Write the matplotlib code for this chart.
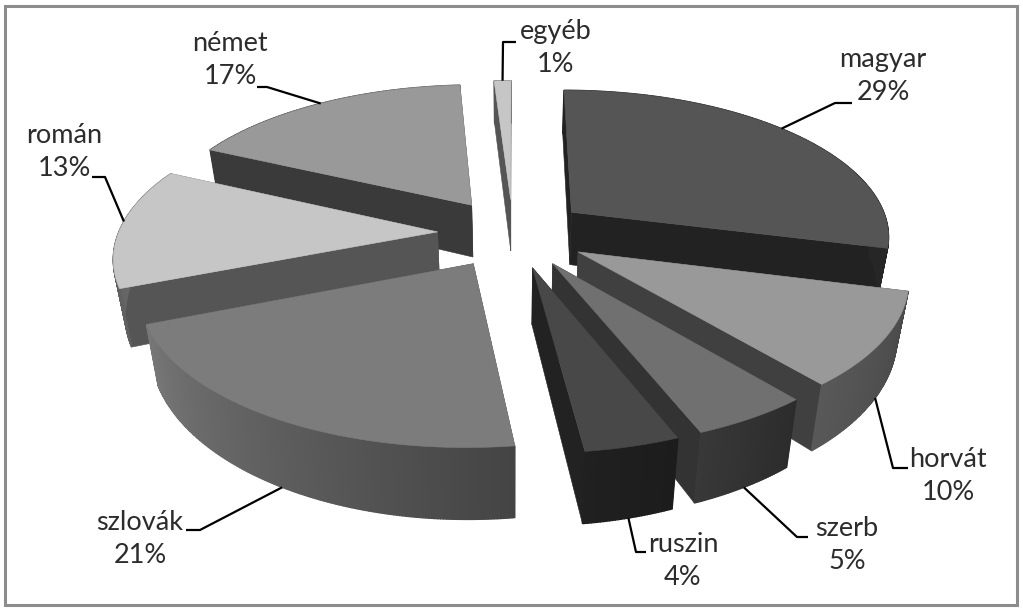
import numpy as np
import matplotlib
matplotlib.use("Agg")
import matplotlib.pyplot as plt

names = ["magyar", "horvát", "szerb", "ruszin", "szlovák", "román", "német", "egyéb"]
shares = [29, 10, 5, 4, 21, 13, 17, 1]

top_gray = [0x55, 0x99, 0x70, 0x48, 0x7c, 0xc6, 0x99, 0xc6]
wall_gray = [0x22, 0x40, 0x33, 0x22, 0x44, 0x55, 0x3a, 0x55]
rim_start = [0x26, 0x48, 0x2c, 0x1c, 0x44, 0x60, 0x3a, 0x55]
rim_end = [0x26, 0x58, 0x38, 0x20, 0x78, 0x70, 0x55, 0x55]

label_xy = [(883, 76), (948, 476), (847, 545), (683, 561), (140, 539), (64, 152), (230, 60), (556, 48)]
leader_frac = [0.47, 0.45, 0.5, 0.5, 0.5, 0.55, 0.5, 0.5]
leader_mid = [(835, 103), (893, 468), (797, 537), (636, 552), (200, 530), (105, 177), (267, 87), (503, 42)]
leader_end = [(852, 103), (908, 468), (808, 537), (646, 552), (186, 530), (92, 177), (257, 87), (516, 42)]

CX, CY = 513, 233
RX, RY = 319, 146
EXPLODE = 0.237
PERSP = 0.15
PERSP_Z = 0.03
HZ = 54
HZ_POW = 1.94


def project(u, v, z=0.0):
    s = 1 / (1 - PERSP * v + PERSP_Z * z)
    s0 = 1 / (1 - PERSP * v)
    return CX + RX * u * s, CY + RY * v * s + HZ * z * s0 ** HZ_POW


def gray(g):
    g = int(round(g))
    return "#%02x%02x%02x" % (g, g, g)


def face(ax, pts, g, z, lw=0.4):
    xs, ys = zip(*pts)
    ax.fill(xs, ys, color=gray(g), lw=lw, zorder=z)


fig = plt.figure(figsize=(10.23, 6.11), dpi=100)
ax = fig.add_axes([0, 0, 1, 1])
ax.set_xlim(0, 1023)
ax.set_ylim(611, 0)
ax.axis("off")
ax.add_patch(plt.Rectangle((5, 6), 1012, 599, fill=False, ec="#8c8c8c", lw=2.2))

bounds = np.concatenate([[0], np.cumsum(shares)]) / sum(shares) * 2 * np.pi
order = []
for i in range(len(shares)):
    a0, a1 = bounds[i], bounds[i + 1]
    mid = (a0 + a1) / 2
    ou, ov = EXPLODE * np.sin(mid), -EXPLODE * np.cos(mid)
    order.append((ov, i, a0, a1, ou))

z = 1
for ov, i, a0, a1, ou in sorted(order):
    angs = np.linspace(a0, a1, max(8, int(shares[i] * 8)))
    us = ou + np.sin(angs)
    vs = ov - np.cos(angs)
    faces = []
    # cut walls
    for j in (0, -1):
        pts = [project(ou, ov), project(us[j], vs[j]), project(us[j], vs[j], 1), project(ou, ov, 1)]
        faces.append(((ov + vs[j]) / 2, pts, wall_gray[i], 0.4))
    # outer rim
    n = len(angs) - 1
    for j in range(n):
        pts = [project(us[j], vs[j]), project(us[j + 1], vs[j + 1]),
               project(us[j + 1], vs[j + 1], 1), project(us[j], vs[j], 1)]
        g = rim_start[i] + (rim_end[i] - rim_start[i]) * j / max(n - 1, 1)
        faces.append(((vs[j] + vs[j + 1]) / 2 + 0.2, pts, g, 1.0))
    for _, pts, g, lw in sorted(faces, key=lambda f: f[0]):
        face(ax, pts, g, z, lw)
        z += 1
    top = [project(ou, ov)] + [project(a, b) for a, b in zip(us, vs)]
    face(ax, top, top_gray[i], z)
    z += 1

    # leader starts on the rim of the slice
    m = a0 + (a1 - a0) * leader_frac[i]
    sx, sy = project(ou + np.sin(m), ov - np.cos(m), 1 if -np.cos(m) > 0.1 else 0)
    ax.plot([sx, leader_mid[i][0], leader_end[i][0]], [sy, leader_mid[i][1], leader_end[i][1]],
            color="black", lw=1.6, zorder=100000, solid_capstyle="butt")

    lx, ly = label_xy[i]
    ax.text(lx, ly, "%s\n%d%%" % (names[i], shares[i]), ha="center", va="center",
            family="Lato", fontsize=19.5, color="#2c2c2c", linespacing=1.36, zorder=100001)

fig.savefig("out.png", dpi=100)
